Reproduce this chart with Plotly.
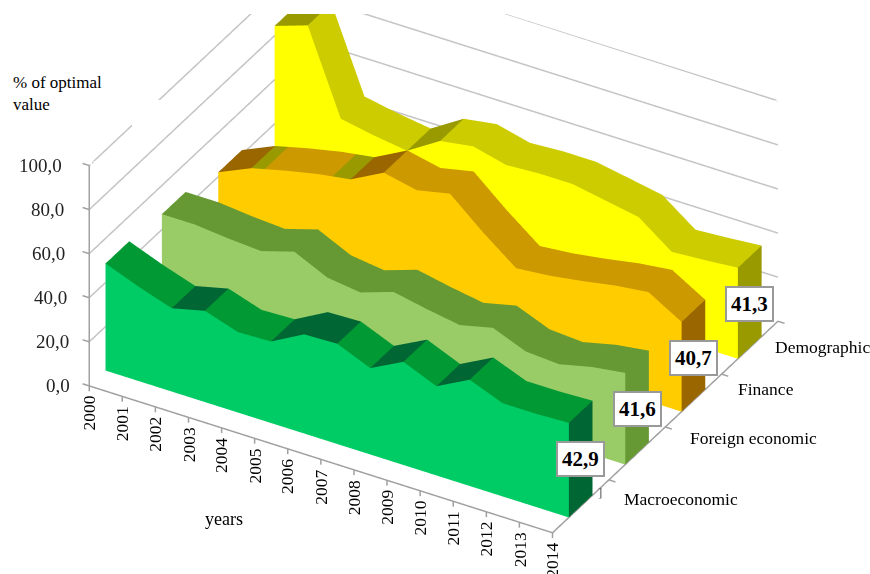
import plotly.graph_objects as go

years = list(range(2000, 2015))
series_names = ["Macroeconomic", "Foreign economic", "Finance", "Demographic"]
macroeconomic = [48.6, 42.8, 37.8, 41.4, 36.5, 37.0, 45.0, 45.5, 39.2, 46.8, 40.5, 48.2, 42.3, 42.3, 42.9]
foreign_economic = [47.0, 47.0, 45.5, 44.5, 49.0, 42.0, 40.0, 45.0, 42.0, 39.5, 43.0, 37.0, 36.0, 39.5, 41.6]
finance = [42.0, 48.6, 52.3, 55.5, 57.8, 65.6, 62.4, 65.6, 52.8, 41.3, 42.7, 45.0, 47.7, 49.5, 40.7]
demographic = [84.4, 89.4, 51.8, 49.0, 46.8, 56.0, 58.3, 54.6, 55.5, 55.5, 52.8, 50.0, 39.0, 40.0, 41.3]
all_series = [macroeconomic, foreign_economic, finance, demographic]
z_ticks = [0, 20, 40, 60, 80, 100]

front_colors = ["#00CC66", "#99CC66", "#FFCC00", "#FFFF00"]
top_colors = ["#009933", "#669933", "#CC9900", "#CCCC00"]
side_colors = ["#006633", "#669933", "#996600", "#999900"]
# colour bands on the top strips: (from year, to year, colour)
bands = [
    [(2002, 2003, "#006633"), (2005, 2007, "#006633"), (2008, 2009, "#006633"), (2010, 2011, "#006633")],
    [],
    [(2000, 2001, "#996600"), (2001, 2001.4, "#999900"), (2003.45, 2004, "#999900"), (2004, 2005, "#996600")],
    [(2000, 2001, "#999900"), (2004, 2005, "#999900")],
]
DEPTH0, DEPTH1 = 0.29, 0.71
X_RANGE = [1999.7, 2014.4]
Y_RANGE = [0, 4]
Z_RANGE = [-4, 100]
EYE = (0.448, -0.772, 0.451)
R = 1.5
CENTER = dict(x=-0.001, y=0.0, z=-0.195)


def value_at(vals, t):
    i = min(int(t - 2000), 13)
    f = t - 2000 - i
    return vals[i] + (vals[i + 1] - vals[i]) * f


def area_mesh(k, vals):
    y0, y1 = k + DEPTH0, k + DEPTH1
    X, Y, Z, I, J, K, C = [], [], [], [], [], [], []

    def quad(pts, col):
        n = len(X)
        for p in pts:
            X.append(p[0]); Y.append(p[1]); Z.append(p[2])
        I.extend([n, n]); J.extend([n + 1, n + 2]); K.extend([n + 2, n + 3]); C.extend([col, col])

    # front face
    for a, b, va, vb in zip(years[:-1], years[1:], vals[:-1], vals[1:]):
        quad([(a, y0, 0), (b, y0, 0), (b, y0, vb), (a, y0, va)], front_colors[k])
    # top strip, split where a colour band starts or ends
    cuts = sorted(set(years) | {t for b in bands[k] for t in b[:2]})
    for a, b in zip(cuts[:-1], cuts[1:]):
        col = top_colors[k]
        for s, e, c in bands[k]:
            if s <= a and b <= e:
                col = c
        va, vb = value_at(vals, a), value_at(vals, b)
        quad([(a, y0, va), (b, y0, vb), (b, y1, vb), (a, y1, va)], col)
    # right end
    quad([(2014, y0, 0), (2014, y1, 0), (2014, y1, vals[-1]), (2014, y0, vals[-1])], side_colors[k])
    return go.Mesh3d(x=X, y=Y, z=Z, i=I, j=J, k=K, facecolor=C, flatshading=True,
                     lighting=dict(ambient=1, diffuse=0, specular=0, fresnel=0, roughness=1),
                     hoverinfo="skip", showscale=False)


fig = go.Figure()
for k, vals in enumerate(all_series):
    fig.add_trace(area_mesh(k, vals))

# walls' gridlines
gx, gy, gz = [], [], []
for t in z_ticks[1:]:
    gx += [2000, 2000, 2014, None]; gy += [0, 4, 4, None]; gz += [t, t, t, None]
fig.add_trace(go.Scatter3d(x=gx, y=gy, z=gz, mode="lines", line=dict(color="#C4C4C4", width=3), hoverinfo="skip"))
# axes and ticks
ax_x, ax_y, ax_z = [2000, 2000, None, 2000, 2014, 2014], [0, 0, None, 0, 0, 4], [100, 0, None, 0, 0, 0]
for yr in years:
    ax_x += [None, yr, yr]; ax_y += [None, 0, 0]; ax_z += [None, 0, -2.4]
for c in range(1, 5):
    ax_x += [None, 2014, 2014.2]; ax_y += [None, c, c]; ax_z += [None, 0, 0]
for t in z_ticks:
    ax_x += [None, 2000, 1999.8]; ax_y += [None, 0, 0]; ax_z += [None, t, t]
fig.add_trace(go.Scatter3d(x=ax_x, y=ax_y, z=ax_z, mode="lines", line=dict(color="#A0A0A0", width=3), hoverinfo="skip"))

serif = "Liberation Serif"
anns = []
for yr in years:
    anns.append(dict(x=yr, y=0, z=0, text=str(yr), showarrow=False, textangle=-90, yanchor="top", xanchor="center",
                     yshift=-8, font=dict(family=serif, size=17.5, color="#000")))
for t in z_ticks:
    anns.append(dict(x=2000, y=0, z=t, text=f"{t:.1f}".replace(".", ","), showarrow=False, xanchor="right",
                     xshift=-17 - t * 0.08, font=dict(family=serif, size=19, color="#222")))
name_shift = [(100, 7), (116, 15), (73, 11), (73, 1)]
for k, name in enumerate(series_names):
    anns.append(dict(x=2014, y=k + 0.5, z=0, text=name, showarrow=False, xshift=name_shift[k][0], yshift=name_shift[k][1],
                     font=dict(family=serif, size=17.5, color="#000")))
for k, vals in enumerate(all_series):
    anns.append(dict(x=2014, y=k + 0.5, z=vals[-1], text=f"<b>{vals[-1]:.1f}</b>".replace(".", ","), showarrow=False,
                     yshift=-47, bgcolor="#FFFFFF", bordercolor="#999999", borderwidth=2, borderpad=4,
                     font=dict(family=serif, size=21, color="#000")))

axis = dict(visible=False, showgrid=False, zeroline=False, showline=False, showticklabels=False,
            showbackground=False, showspikes=False, title="", autorange=False)
PXX, PXY, PXZ = 38.14, 111.75, 2.62
SC = 279
fig.update_layout(
    width=870, height=574, margin=dict(l=0, r=0, t=0, b=0), paper_bgcolor="#FFFFFF", showlegend=False,
    scene=dict(
        domain=dict(x=[0, 1], y=[0, 0.976]),
        xaxis=dict(axis, range=X_RANGE), yaxis=dict(axis, range=Y_RANGE), zaxis=dict(axis, range=Z_RANGE),
        aspectmode="manual",
        aspectratio=dict(x=(X_RANGE[1] - X_RANGE[0]) * PXX / SC, y=(Y_RANGE[1] - Y_RANGE[0]) * PXY / SC,
                         z=(Z_RANGE[1] - Z_RANGE[0]) * PXZ / SC),
        camera=dict(projection=dict(type="orthographic"), center=CENTER,
                    eye=dict(x=EYE[0] * R, y=EYE[1] * R, z=EYE[2] * R), up=dict(x=0, y=0, z=1)),
        annotations=anns,
    ),
    annotations=[
        dict(xref="paper", yref="paper", x=13 / 870, y=1 - 71 / 574, xanchor="left", yanchor="top", align="left",
             xshift=-2, text="% of optimal<br>value", showarrow=False, bgcolor="#FFFFFF",
             font=dict(family=serif, size=17, color="#000")),
        dict(xref="paper", yref="paper", x=224 / 870, y=1 - 531 / 574, xanchor="center", text="years", showarrow=False,
             font=dict(family=serif, size=18, color="#000")),
        dict(xref="paper", yref="paper", x=604 / 870, y=1 - 502 / 574, text="]", showarrow=False,
             font=dict(family=serif, size=13, color="#555")),
    ],
    shapes=[dict(type="rect", xref="paper", yref="paper", x0=132 / 870, x1=167 / 870, y0=1 - 130 / 574, y1=1 - 100 / 574,
                 fillcolor="#FFFFFF", line=dict(width=0), layer="above")],
)
fig.write_html("out.html", config=dict(displayModeBar=False), post_script="document.body.style.margin='0';")
